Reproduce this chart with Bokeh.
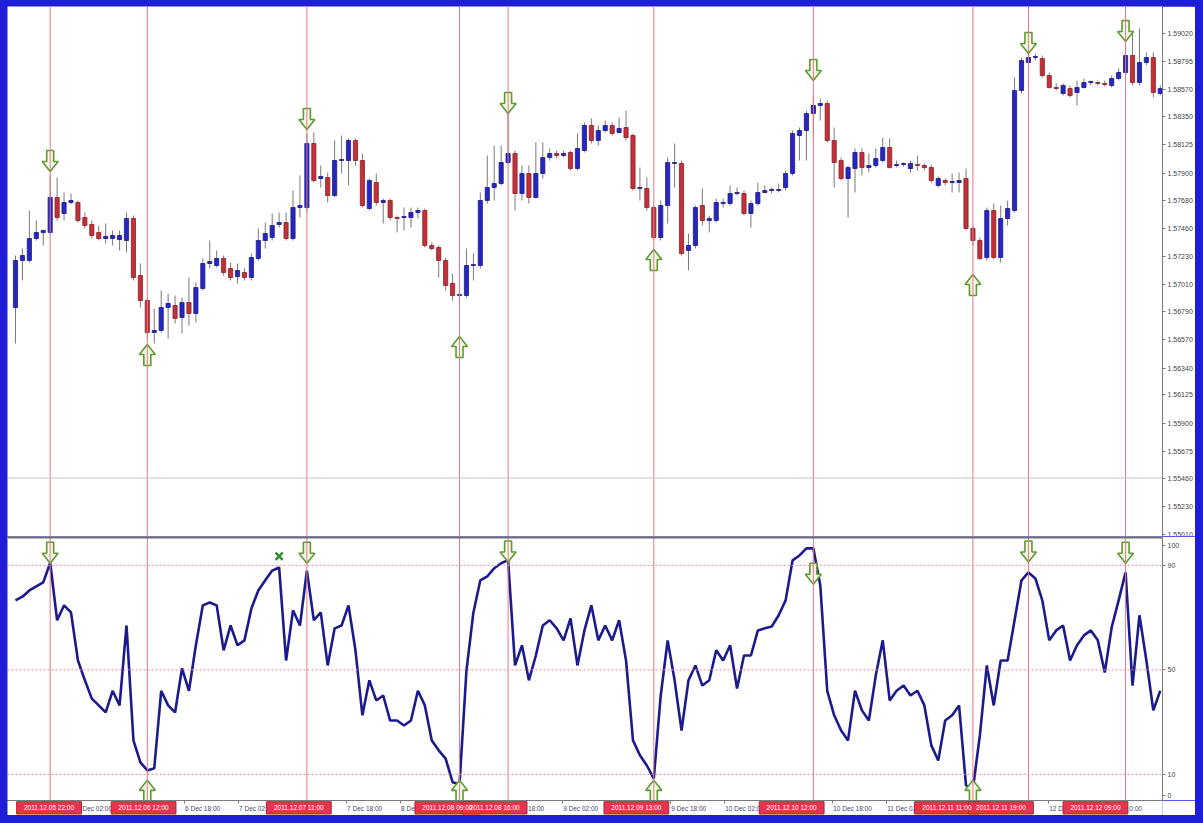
from bokeh.plotting import figure
from bokeh.models import ColumnDataSource, Span, FixedTicker, Range1d
from bokeh.layouts import column
from bokeh.embed import file_html
from bokeh.resources import INLINE
from bokeh.core.properties import value

# ---------------- data (H1 bars) ----------------
opens = [1.56824, 1.57200, 1.57200, 1.57376, 1.57424, 1.57424, 1.57704, 1.57576, 1.57664, 1.57664,
         1.57544, 1.57488, 1.57424, 1.57376, 1.57376, 1.57368, 1.57360, 1.57536, 1.57080, 1.56880,
         1.56624, 1.56640, 1.56824, 1.56840, 1.56744, 1.56864, 1.56776, 1.56976, 1.57176, 1.57160,
         1.57216, 1.57136, 1.57072, 1.57104, 1.57064, 1.57216, 1.57360, 1.57384, 1.57488, 1.57504,
         1.57376, 1.57624, 1.57624, 1.58136, 1.57856, 1.57864, 1.57720, 1.58000, 1.58000, 1.58160,
         1.58000, 1.57616, 1.57824, 1.57664, 1.57680, 1.57544, 1.57544, 1.57544, 1.57584, 1.57600,
         1.57320, 1.57304, 1.57200, 1.57016, 1.56920, 1.56920, 1.57160, 1.57160, 1.57680, 1.57784,
         1.57816, 1.57984, 1.58056, 1.57736, 1.57896, 1.57704, 1.57896, 1.58024, 1.58056, 1.58040,
         1.58064, 1.57936, 1.58080, 1.58280, 1.58160, 1.58240, 1.58280, 1.58224, 1.58264, 1.58200,
         1.57776, 1.57776, 1.57624, 1.57384, 1.57640, 1.57976, 1.57976, 1.57280, 1.57320, 1.57640,
         1.57520, 1.57520, 1.57656, 1.57656, 1.57736, 1.57736, 1.57576, 1.57656, 1.57744, 1.57760,
         1.57760, 1.57784, 1.57896, 1.58200, 1.58240, 1.58376, 1.58440, 1.58456, 1.58160, 1.58000,
         1.57856, 1.57936, 1.58064, 1.57944, 1.57960, 1.58000, 1.58104, 1.57960, 1.57968, 1.57936,
         1.57968, 1.57960, 1.57944, 1.57800, 1.57840, 1.57824, 1.57824, 1.57856, 1.57456, 1.57360,
         1.57224, 1.57600, 1.57224, 1.57536, 1.57600, 1.58560, 1.58784, 1.58824, 1.58816, 1.58680,
         1.58584, 1.58536, 1.58576, 1.58544, 1.58584, 1.58624, 1.58624, 1.58616, 1.58600, 1.58656,
         1.58704, 1.58840, 1.58624, 1.58784, 1.58824, 1.58536]
highs = [1.57240, 1.57296, 1.57600, 1.57520, 1.57448, 1.57880, 1.57864, 1.57744, 1.57736, 1.57680,
         1.57584, 1.57520, 1.57480, 1.57496, 1.57440, 1.57440, 1.57584, 1.57560, 1.57176, 1.56904,
         1.56816, 1.56960, 1.56936, 1.56920, 1.56904, 1.57064, 1.57024, 1.57216, 1.57360, 1.57280,
         1.57240, 1.57184, 1.57176, 1.57136, 1.57256, 1.57456, 1.57504, 1.57576, 1.57584, 1.57584,
         1.57760, 1.57880, 1.58216, 1.58224, 1.57960, 1.57904, 1.58160, 1.58200, 1.58176, 1.58176,
         1.58056, 1.57856, 1.57896, 1.57696, 1.57696, 1.57560, 1.57624, 1.57624, 1.57624, 1.57616,
         1.57344, 1.57320, 1.57224, 1.57096, 1.56960, 1.57296, 1.57256, 1.57744, 1.58040, 1.58120,
         1.58120, 1.58384, 1.58080, 1.57960, 1.57960, 1.58144, 1.58144, 1.58096, 1.58080, 1.58080,
         1.58080, 1.58216, 1.58304, 1.58336, 1.58280, 1.58320, 1.58304, 1.58344, 1.58400, 1.58216,
         1.57944, 1.57864, 1.57640, 1.57680, 1.58024, 1.58136, 1.58000, 1.57416, 1.57640, 1.57776,
         1.57560, 1.57696, 1.57696, 1.57800, 1.57784, 1.57760, 1.57680, 1.57824, 1.57800, 1.57784,
         1.57816, 1.57920, 1.58240, 1.58264, 1.58400, 1.58504, 1.58496, 1.58480, 1.58264, 1.58024,
         1.57960, 1.58096, 1.58096, 1.58056, 1.58096, 1.58184, 1.58176, 1.58000, 1.57984, 1.58000,
         1.58040, 1.57976, 1.57968, 1.57872, 1.57856, 1.57896, 1.57904, 1.57936, 1.57480, 1.57384,
         1.57624, 1.57656, 1.57640, 1.57680, 1.58664, 1.58824, 1.58856, 1.58856, 1.58840, 1.58704,
         1.58616, 1.58616, 1.58600, 1.58640, 1.58656, 1.58640, 1.58640, 1.58640, 1.58680, 1.58736,
         1.58920, 1.59016, 1.59056, 1.58864, 1.58864, 1.58600]
lows = [1.56536, 1.57040, 1.57184, 1.57360, 1.57320, 1.57408, 1.57520, 1.57520, 1.57648, 1.57504,
        1.57456, 1.57376, 1.57360, 1.57336, 1.57320, 1.57280, 1.57264, 1.57040, 1.56824, 1.56576,
        1.56536, 1.56624, 1.56576, 1.56696, 1.56616, 1.56680, 1.56704, 1.56960, 1.57136, 1.57144,
        1.57080, 1.57040, 1.57016, 1.57040, 1.57040, 1.57200, 1.57296, 1.57360, 1.57464, 1.57360,
        1.57360, 1.57544, 1.57584, 1.57824, 1.57784, 1.57664, 1.57704, 1.57896, 1.57800, 1.57960,
        1.57624, 1.57600, 1.57640, 1.57496, 1.57520, 1.57424, 1.57440, 1.57464, 1.57536, 1.57304,
        1.57280, 1.57064, 1.56960, 1.56880, 1.56864, 1.56904, 1.57040, 1.57136, 1.57656, 1.57680,
        1.57800, 1.57968, 1.57600, 1.57680, 1.57656, 1.57696, 1.57856, 1.58000, 1.58016, 1.58024,
        1.57920, 1.57920, 1.58064, 1.58136, 1.58120, 1.58224, 1.58200, 1.58216, 1.58160, 1.57760,
        1.57680, 1.57600, 1.57360, 1.57360, 1.57496, 1.57784, 1.57240, 1.57120, 1.57296, 1.57480,
        1.57424, 1.57504, 1.57624, 1.57640, 1.57720, 1.57560, 1.57464, 1.57640, 1.57736, 1.57736,
        1.57744, 1.57760, 1.57880, 1.58000, 1.58000, 1.58184, 1.58320, 1.58144, 1.57784, 1.57840,
        1.57544, 1.57744, 1.57880, 1.57904, 1.57944, 1.57984, 1.57936, 1.57944, 1.57952, 1.57904,
        1.57920, 1.57920, 1.57824, 1.57784, 1.57800, 1.57744, 1.57744, 1.57440, 1.57320, 1.57200,
        1.57200, 1.57208, 1.57184, 1.57480, 1.57584, 1.58536, 1.58760, 1.58800, 1.58664, 1.58576,
        1.58560, 1.58520, 1.58504, 1.58440, 1.58576, 1.58600, 1.58600, 1.58592, 1.58584, 1.58640,
        1.58680, 1.58600, 1.58600, 1.58760, 1.58504, 1.58520]
closes = [1.57200, 1.57240, 1.57376, 1.57424, 1.57440, 1.57704, 1.57544, 1.57664, 1.57680, 1.57520,
          1.57480, 1.57400, 1.57376, 1.57392, 1.57400, 1.57400, 1.57536, 1.57064, 1.56880, 1.56624,
          1.56640, 1.56824, 1.56856, 1.56736, 1.56864, 1.56776, 1.56984, 1.57176, 1.57192, 1.57216,
          1.57104, 1.57064, 1.57120, 1.57064, 1.57224, 1.57360, 1.57416, 1.57480, 1.57504, 1.57376,
          1.57624, 1.57640, 1.58136, 1.57840, 1.57872, 1.57720, 1.58000, 1.58008, 1.58160, 1.58000,
          1.57640, 1.57840, 1.57664, 1.57680, 1.57544, 1.57536, 1.57552, 1.57584, 1.57600, 1.57320,
          1.57296, 1.57200, 1.57000, 1.56920, 1.56928, 1.57160, 1.57168, 1.57680, 1.57784, 1.57816,
          1.57984, 1.58056, 1.57736, 1.57896, 1.57704, 1.57896, 1.58024, 1.58056, 1.58040, 1.58056,
          1.57936, 1.58096, 1.58280, 1.58160, 1.58240, 1.58280, 1.58216, 1.58256, 1.58184, 1.57776,
          1.57784, 1.57624, 1.57384, 1.57640, 1.57984, 1.57984, 1.57256, 1.57320, 1.57624, 1.57520,
          1.57536, 1.57664, 1.57664, 1.57736, 1.57744, 1.57576, 1.57656, 1.57744, 1.57760, 1.57768,
          1.57768, 1.57896, 1.58216, 1.58240, 1.58376, 1.58440, 1.58456, 1.58160, 1.57984, 1.57856,
          1.57944, 1.58064, 1.57944, 1.57960, 1.58016, 1.58104, 1.57944, 1.57968, 1.57976, 1.57976,
          1.57960, 1.57944, 1.57840, 1.57856, 1.57824, 1.57832, 1.57840, 1.57456, 1.57360, 1.57216,
          1.57600, 1.57224, 1.57536, 1.57616, 1.58560, 1.58800, 1.58824, 1.58832, 1.58680, 1.58584,
          1.58576, 1.58600, 1.58520, 1.58584, 1.58624, 1.58632, 1.58616, 1.58608, 1.58656, 1.58704,
          1.58840, 1.58624, 1.58784, 1.58824, 1.58544, 1.58576]

oscillator = [76.6, 78, 80.4, 82, 83.5, 91, 69, 74.7, 72, 53.6,
              46, 39, 36.4, 33.7, 42, 36.4, 67, 23, 14.6, 11.5,
              12.3, 42, 36.4, 33.7, 50.6, 42, 59.4, 74.7, 75.8, 74.7,
              57.5, 67, 59.4, 61.3, 73.5, 80.4, 84.3, 88, 89.2, 53.6,
              72.8, 67, 88, 69, 72, 51.7, 65.9, 67, 74.7, 57.5,
              32.6, 46, 38.3, 40.2, 30.6, 30.6, 28.7, 30.6, 42, 36.4,
              23, 19.2, 16, 7, 6.2, 49.8, 72, 84.3, 85.8, 88.9,
              90.8, 92, 51.7, 59.4, 46, 55.5, 67, 69, 65.9, 61.3,
              69.7, 51.7, 65.1, 74.7, 61.3, 67, 61.3, 69, 53.6, 23,
              17.3, 13.4, 8.4, 40.2, 61.3, 46, 26.8, 46, 51.7, 44,
              46, 57.5, 53.6, 59.4, 42.9, 55.5, 55.5, 65.1, 65.9, 66.6,
              70.9, 76.6, 91.9, 93.8, 96.5, 96.5, 82.3, 42, 32.6, 26.8,
              23, 42, 34.5, 30.6, 47.9, 61.3, 38.3, 42, 44, 40.2,
              42, 36.4, 21.1, 15.3, 30.6, 32.6, 36.4, 5.8, 4.6, 24.9,
              51.7, 36.4, 53.6, 53.6, 69, 84.3, 87.3, 85, 76.6, 61.3,
              65.1, 67, 53.6, 59.4, 63.2, 65.1, 61.3, 49, 66.3, 76.6,
              87.3, 44, 70.9, 53.6, 34.5, 42]

# signal bars (vertical lines) and their time stamps
signal_bars = [5, 19, 42, 64, 71, 92, 115, 138, 146, 160]
signal_times = ["2011.12.05 22:00", "2011.12.06 12:00", "2011.12.07 11:00", "2011.12.08 09:00",
                "2011.12.08 16:00", "2011.12.09 13:00", "2011.12.10 12:00", "2011.12.11 11:00",
                "2011.12.11 19:00", "2011.12.12 09:00"]

# sell (down) and buy (up) arrows on the price chart
sell_bars = [5, 42, 71, 115, 146, 160]
sell_prices = [1.58000, 1.58336, 1.58464, 1.58728, 1.58944, 1.59040]
buy_bars = [19, 64, 92, 138]
buy_prices = [1.56440, 1.56504, 1.57200, 1.57000]

# arrows on the oscillator window
osc_sell_bars = [5, 42, 71, 115, 146, 160]
osc_sell_values = [95.0, 95.0, 95.5, 87.0, 95.5, 95.0]
osc_buy_bars = [19, 64, 92, 138]
osc_buy_values = [3.5, 3.5, 3.5, 3.5]
osc_cross_bar = [38]
osc_cross_value = [93.5]

# axes
price_ticks = [1.59020, 1.58795, 1.58570, 1.58350, 1.58125, 1.57900, 1.57680, 1.57460, 1.57230,
               1.57010, 1.56790, 1.56570, 1.56340, 1.56125, 1.55900, 1.55675, 1.55460, 1.55230,
               1.55010]
current_price = 1.55460
osc_levels = [90, 50, 10]
osc_ticks = [1.9, 10, 50, 90, 97.6]
osc_tick_labels = ["0", "10", "50", "90", "100"]
time_tick_bars = [1, 9, 17, 25, 33, 41, 49, 57, 65, 73, 81, 89, 97, 105, 113, 121, 129, 137, 145, 153, 161]
time_tick_labels = ["5 Dec 18:00", "6 Dec 02:00", "6 Dec 10:00", "6 Dec 18:00", "7 Dec 02:00",
                    "7 Dec 10:00", "7 Dec 18:00", "8 Dec 02:00", "8 Dec 10:00", "8 Dec 18:00",
                    "9 Dec 02:00", "9 Dec 10:00", "9 Dec 18:00", "10 Dec 02:00", "10 Dec 10:00",
                    "10 Dec 18:00", "11 Dec 02:00", "11 Dec 10:00", "11 Dec 18:00", "12 Dec 02:00",
                    "12 Dec 10:00"]

# ---------------- styling ----------------
BULL = "#2626c4"
BEAR = "#c2303a"
WICK = "#7a7a7a"
VLINE = "#e6788a"
ARROW_LINE = "#5e9b30"
ARROW_FILL = "#f1f8e6"
AXIS = "#7a7a7a"
LABEL_FONT = "Liberation Sans"
PX_PER_BAR = 6.944
FRAME_W = 1156
RIGHT_W = 32
X0 = -1.152

# hollow arrow outline, in pixels around its centre (down-pointing, y up)
ARROW_DX = [-3.5, 3.5, 3.5, 8.0, 0.0, -8.0, -3.5]
ARROW_DY = [10.0, 10.0, -1.0, -1.0, -11.0, -1.0, -1.0]


def arrow_paths(xs, ys, units_per_px, down=True):
    sign = 1 if down else -1
    px = [[x + dx / PX_PER_BAR for dx in ARROW_DX] for x in xs]
    py = [[y + sign * dy * units_per_px for dy in ARROW_DY] for y in ys]
    return px, py


n = len(closes)
bars = list(range(n))
x_range = Range1d(X0, X0 + FRAME_W / PX_PER_BAR)

# ---------------- price window ----------------
TOP_H = 530
price_per_px = 0.00008
top = figure(width=FRAME_W + RIGHT_W, height=TOP_H, x_range=x_range,
             y_range=Range1d(1.54992, 1.54992 + TOP_H * price_per_px),
             output_backend="svg", toolbar_location=None, title=None,
             x_axis_location=None, y_axis_location="right",
             min_border_left=0, min_border_right=RIGHT_W, min_border_top=0, min_border_bottom=0,
             background_fill_color="white", border_fill_color="white", outline_line_color=None)
top.grid.visible = False

for b in signal_bars:
    top.add_layout(Span(location=b, dimension="height", line_color=VLINE, line_width=1))
top.add_layout(Span(location=current_price, dimension="width", line_color="#c4c4c4", line_width=1))

bull = [c >= o for o, c in zip(opens, closes)]
src = ColumnDataSource(dict(
    x=bars, h=highs, l=lows,
    top=[max(o, c) for o, c in zip(opens, closes)],
    bottom=[min(o, c) for o, c in zip(opens, closes)],
    fill=[BULL if u else BEAR for u in bull],
    edge=["#1a1a80" if u else "#8a1f26" for u in bull],
))
top.segment("x", "h", "x", "l", source=src, line_color=WICK, line_width=1)
top.vbar(x="x", width=0.6, top="top", bottom="bottom", source=src,
         fill_color="fill", line_color="edge", line_width=0.8)

sx, sy = arrow_paths(sell_bars, sell_prices, price_per_px, down=True)
top.patches(sx, sy, fill_color=ARROW_FILL, line_color=ARROW_LINE, line_width=1.6)
bx_, by_ = arrow_paths(buy_bars, buy_prices, price_per_px, down=False)
top.patches(bx_, by_, fill_color=ARROW_FILL, line_color=ARROW_LINE, line_width=1.6)

ax = top.yaxis[0]
ax.ticker = FixedTicker(ticks=price_ticks)
ax.major_label_overrides = {t: f"{t:.5f}" for t in price_ticks}
ax.major_label_text_font = LABEL_FONT
ax.major_label_text_font_size = "7px"
ax.major_label_text_color = "#444444"
ax.axis_line_color = AXIS
ax.major_tick_line_color = AXIS
ax.major_tick_in = 0
ax.major_tick_out = 3
ax.minor_tick_line_color = None
ax.major_label_standoff = 2

# ---------------- oscillator window ----------------
BOT_H = 264
osc_per_px = 1 / 2.6125
bot = figure(width=FRAME_W + RIGHT_W, height=BOT_H, x_range=x_range,
             y_range=Range1d(0, BOT_H * osc_per_px),
             output_backend="svg", toolbar_location=None, title=None,
             x_axis_location=None, y_axis_location="right",
             min_border_left=0, min_border_right=RIGHT_W, min_border_top=0, min_border_bottom=0,
             background_fill_color="white", border_fill_color="white", outline_line_color=None)
bot.grid.visible = False

for b in signal_bars:
    bot.add_layout(Span(location=b, dimension="height", line_color=VLINE, line_width=1))
for lv in osc_levels:
    bot.add_layout(Span(location=lv, dimension="width", line_color="#e58c96",
                        line_width=1, line_dash="2 2"))
bot.add_layout(Span(location=BOT_H * osc_per_px, dimension="width", line_color="#6e6e6e", line_width=4))

bot.line(bars, oscillator, line_color="#1b1b8e", line_width=2.6)

sx, sy = arrow_paths(osc_sell_bars, osc_sell_values, osc_per_px, down=True)
bot.patches(sx, sy, fill_color=ARROW_FILL, line_color=ARROW_LINE, line_width=1.6)
bx_, by_ = arrow_paths(osc_buy_bars, osc_buy_values, osc_per_px, down=False)
bot.patches(bx_, by_, fill_color=ARROW_FILL, line_color=ARROW_LINE, line_width=1.6)
bot.scatter(x=osc_cross_bar, y=osc_cross_value, marker="x", size=10,
            line_color="#2d8f2d", line_width=2.5)

oy = bot.yaxis[0]
oy.ticker = FixedTicker(ticks=osc_ticks)
oy.major_label_overrides = dict(zip(osc_ticks, osc_tick_labels))
oy.major_label_text_font = LABEL_FONT
oy.major_label_text_font_size = "7px"
oy.major_label_text_color = "#444444"
oy.axis_line_color = AXIS
oy.major_tick_line_color = AXIS
oy.major_tick_in = 0
oy.major_tick_out = 3
oy.minor_tick_line_color = None
oy.major_label_standoff = 2

# ---------------- time scale strip ----------------
STRIP_W = FRAME_W + RIGHT_W
strip = figure(width=STRIP_W, height=15,
               x_range=Range1d(X0, X0 + STRIP_W / PX_PER_BAR), y_range=Range1d(0, 1),
               output_backend="svg", toolbar_location=None, title=None,
               x_axis_location="above", y_axis_location=None,
               min_border_left=0, min_border_right=0, min_border_top=0, min_border_bottom=0,
               background_fill_color="white", border_fill_color="white", outline_line_color=None)
strip.grid.visible = False
tx = strip.xaxis[0]
tx.ticker = FixedTicker(ticks=time_tick_bars)
tx.major_label_text_alpha = 0
tx.major_label_text_font_size = "1px"
tx.major_label_standoff = 0
tx.axis_line_color = AXIS
tx.major_tick_line_color = AXIS
tx.major_tick_in = 3
tx.major_tick_out = 0
tx.minor_tick_line_color = None

strip.text(x=[t + 0.15 for t in time_tick_bars], y=[0.5] * len(time_tick_bars), text=time_tick_labels,
           text_font=value(LABEL_FONT), text_font_size="6.5px", text_color="#4a4a4a",
           text_align="left", text_baseline="middle")
half_box = 4.8
strip.quad(left=[b - half_box for b in signal_bars], right=[b + half_box for b in signal_bars],
           bottom=[0.1] * len(signal_bars), top=[0.92] * len(signal_bars),
           fill_color="#e2364c", line_color="#b02535", line_width=1)
strip.text(x=signal_bars, y=[0.51] * len(signal_bars), text=signal_times,
           text_font=value(LABEL_FONT), text_font_size="6.5px", text_color="white",
           text_align="center", text_baseline="middle")

layout = column(top, bot, strip, spacing=0)
html = file_html(layout, INLINE)
html = html.replace("</head>",
                    "<style>html, body { background: #1e1ed6; } body { padding: 6px 0 0 7px; }</style></head>", 1)
open("out.html", "w").write(html)
